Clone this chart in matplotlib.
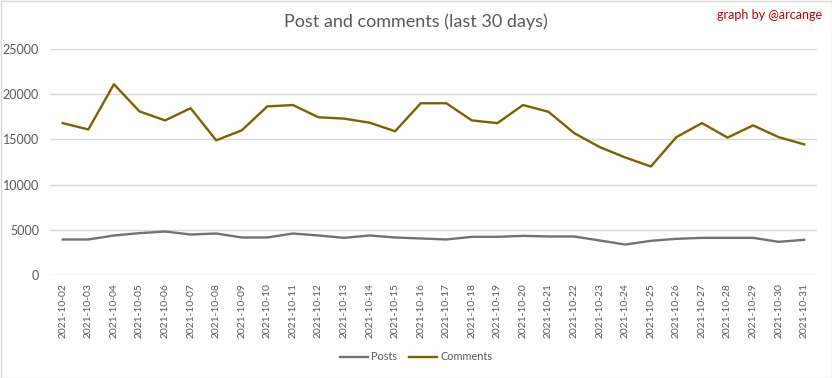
import matplotlib
matplotlib.use("Agg")
import matplotlib.pyplot as plt
from matplotlib.patches import Rectangle

dates = ["2021-10-%02d" % d for d in range(2, 32)]
posts = [3930, 3930, 4370, 4630, 4810, 4480, 4590, 4150, 4150, 4590,
         4370, 4110, 4370, 4150, 4040, 3930, 4220, 4220, 4330, 4260,
         4260, 3820, 3370, 3780, 4000, 4110, 4110, 4110, 3670, 3890]
comments = [16800, 16100, 21100, 18100, 17100, 18450, 14900, 16000, 18650, 18800,
            17450, 17300, 16850, 15900, 19000, 19000, 17100, 16800, 18800, 18050,
            15700, 14150, 13000, 12000, 15250, 16800, 15200, 16550, 15250, 14450]
yticks = [0, 5000, 10000, 15000, 20000, 25000]

plt.rcParams['font.family'] = ['Lato', 'DejaVu Sans']

fig = plt.figure(figsize=(8.32, 3.78), dpi=100)
ax = fig.add_axes([50/832, 1 - 275/378, (817-50)/832, (275-49)/378])

x = list(range(len(dates)))
ax.plot(x, posts, color="#767171", lw=1.7, label="Posts")
ax.plot(x, comments, color="#7f6000", lw=1.7, label="Comments")

ax.set_xlim(-0.5, len(dates) - 0.5)
ax.set_ylim(0, 25000)
ax.set_yticks(yticks)
ax.set_yticklabels([str(v) for v in yticks])
ax.set_xticks(x)
ax.set_xticklabels(dates, rotation=90)
ax.grid(axis='y', color="#d9d9d9", lw=1)
ax.set_axisbelow(True)
for s in ax.spines.values():
    s.set_visible(False)
ax.tick_params(axis='both', length=0, colors="#595959")
ax.tick_params(axis='y', pad=8, labelsize=9)
ax.tick_params(axis='x', pad=6, labelsize=7.4)

fig.text(0.5, 1 - 22/378, "Post and comments (last 30 days)", ha='center', va='center',
         fontsize=13, color="#595959")
fig.text(822/832, 1 - 15/378, "graph by @arcange", ha='right', va='center',
         fontsize=9, color="#c00000")

ax.legend(loc='center', bbox_to_anchor=((416 - 50) / 767, (1 - 357/378 - (1 - 275/378)) / ((275-49)/378)),
          ncol=2, frameon=False, fontsize=7.8, labelcolor="#595959",
          handlelength=2.6, columnspacing=1.1, handletextpad=0.3)

fig.add_artist(Rectangle((0.5/832, 0.5/378), 1 - 1/832, 1 - 1/378, transform=fig.transFigure,
                         fill=False, edgecolor="#d9d9d9", lw=1))

fig.savefig("out.png", dpi=100, facecolor="white")
